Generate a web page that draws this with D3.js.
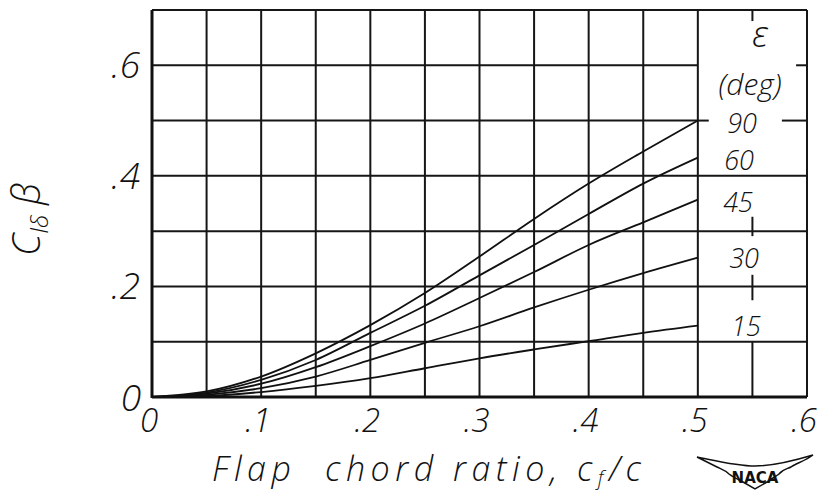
<!DOCTYPE html>
<html>
<head>
<meta charset="utf-8">
<script src="https://cdn.jsdelivr.net/npm/d3@7"></script>
<style>
  body { margin: 0; background: #fff; }
  svg text { font-family: "Open Sans", "DejaVu Sans", sans-serif; font-style: italic; font-weight: 300; fill: #111; white-space: pre; }
</style>
</head>
<body>
<svg width="819" height="493"></svg>
<script>
// flap chord ratio cf/c
const ratio = [0, 0.05, 0.1, 0.15, 0.2, 0.25, 0.3, 0.35, 0.4, 0.45, 0.5]
// flap deflection epsilon (deg)
const angles = [90, 60, 45, 30, 15]
const clb90 = [0, 0.010, 0.037, 0.079, 0.130, 0.188, 0.254, 0.322, 0.386, 0.444, 0.500]
const clb60 = [0, 0.008, 0.031, 0.067, 0.116, 0.165, 0.220, 0.275, 0.331, 0.386, 0.433]
const clb45 = [0, 0.006, 0.024, 0.054, 0.092, 0.133, 0.179, 0.226, 0.275, 0.316, 0.357]
const clb30 = [0, 0.004, 0.016, 0.037, 0.067, 0.098, 0.128, 0.162, 0.194, 0.224, 0.252]
const clb15 = [0, 0.002, 0.009, 0.020, 0.034, 0.052, 0.070, 0.086, 0.101, 0.116, 0.129]
const xTicks = [0, 0.1, 0.2, 0.3, 0.4, 0.5, 0.6]
const xTickLabels = ['0', '.1', '.2', '.3', '.4', '.5', '.6']
const yTicks = [0.2, 0.4, 0.6]
const yTickLabels = ['.2', '.4', '.6']

const series = [clb90, clb60, clb45, clb30, clb15]

const svg = d3.select('svg')
const x = d3.scaleLinear().domain([0, 0.6]).range([152, 807])
const y = d3.scaleLinear().domain([0, 0.7]).range([397, 10])

const grid = svg.append('g')
  .attr('stroke', '#161616')
  .attr('stroke-width', 2)

// vertical grid lines, every 0.05 (0.55 is handled below)
const vLines = d3.range(1, 11).map(i => +(i * 0.05).toFixed(2))
grid.selectAll('line.v')
  .data(vLines)
  .enter()
  .append('line')
  .attr('x1', d => x(d)).attr('x2', d => x(d))
  .attr('y1', y(0)).attr('y2', y(0.7))

// the 0.55 line in the label column is broken by the labels
const colSegs = [[0.7, 0.68], [0.326, 0.291], [0.221, 0.175], [0.1, 0]]
grid.selectAll('line.c')
  .data(colSegs)
  .enter()
  .append('line')
  .attr('x1', x(0.55)).attr('x2', x(0.55))
  .attr('y1', d => y(d[0])).attr('y2', d => y(d[1]))

grid.append('line')
  .attr('x1', x(0.6)).attr('x2', x(0.6))
  .attr('y1', y(0)).attr('y2', y(0.7))

// horizontal grid lines, every 0.1
const hLines = [0.1, 0.2, 0.3, 0.4, 0.7]
grid.selectAll('line.h')
  .data(hLines)
  .enter()
  .append('line')
  .attr('x1', x(0)).attr('x2', x(0.6))
  .attr('y1', d => y(d)).attr('y2', d => y(d))

const hSegs = [[0.5, 0, 0.5], [0.5, 0.5, 0.51], [0.5, 0.577, 0.6], [0.6, 0, 0.5], [0.6, 0.59, 0.6]]
grid.selectAll('line.hs')
  .data(hSegs)
  .enter()
  .append('line')
  .attr('x1', d => x(d[1])).attr('x2', d => x(d[2]))
  .attr('y1', d => y(d[0])).attr('y2', d => y(d[0]))

// axes frame, heavier
svg.append('line')
  .attr('x1', x(0)).attr('x2', x(0)).attr('y1', y(0) + 1).attr('y2', y(0.7))
  .attr('stroke', '#111').attr('stroke-width', 3)
svg.append('line')
  .attr('x1', x(0)).attr('x2', x(0.6)).attr('y1', y(0)).attr('y2', y(0))
  .attr('stroke', '#111').attr('stroke-width', 3)

const line = d3.line()
  .x((d, i) => x(ratio[i]))
  .y(d => y(d))
  .curve(d3.curveMonotoneX)

svg.append('g')
  .selectAll('path')
  .data(series)
  .enter()
  .append('path')
  .attr('d', d => line(d))
  .attr('fill', 'none')
  .attr('stroke', '#111')
  .attr('stroke-width', 1.8)

// tick labels
svg.append('g')
  .selectAll('text')
  .data(xTicks)
  .enter()
  .append('text')
  .attr('x', d => x(d) - 3)
  .attr('y', 432)
  .attr('text-anchor', 'middle')
  .attr('font-size', 33)
  .text((d, i) => xTickLabels[i])

svg.append('g')
  .selectAll('text')
  .data(yTicks)
  .enter()
  .append('text')
  .attr('x', 140)
  .attr('y', d => y(d) + 13)
  .attr('text-anchor', 'end')
  .attr('font-size', 37)
  .text((d, i) => yTickLabels[i])

svg.append('text')
  .attr('x', 141).attr('y', 411)
  .attr('text-anchor', 'end')
  .attr('font-size', 37)
  .text('0')

// legend column labels
const legendY = [133, 170, 212, 268, 336]
svg.append('g')
  .selectAll('text')
  .data(angles)
  .enter()
  .append('text')
  .attr('x', (d, i) => [742, 739, 738, 744, 746][i])
  .attr('y', (d, i) => legendY[i])
  .attr('text-anchor', 'middle')
  .attr('font-size', 27)
  .text(d => d)

svg.append('text')
  .attr('x', 760).attr('y', 47)
  .attr('text-anchor', 'middle')
  .attr('font-size', 36)
  .text('ε')
svg.append('text')
  .attr('x', 750).attr('y', 95)
  .attr('text-anchor', 'middle')
  .attr('font-size', 30)
  .text('(deg)')

// axis titles
const xt = svg.append('text')
  .attr('x', 212).attr('y', 481)
  .attr('font-size', 34)
  .attr('letter-spacing', 5.5)
xt.append('tspan').text('Flap  chord ratio, c')
xt.append('tspan').attr('font-size', 20).attr('dy', 4).text('f')
xt.append('tspan').attr('dy', -4).text('/c')

const yt = svg.append('text')
  .attr('transform', 'translate(40, 256) rotate(-90)')
  .attr('font-size', 38)
yt.append('tspan').text('C')
yt.append('tspan').attr('font-size', 24).attr('dy', 8).text('lδ')
yt.append('tspan').attr('dy', -8).text(' β')

// NACA wings mark
const logo = svg.append('g').attr('transform', 'translate(697, 455)')
logo.append('path')
  .attr('d', 'M0,2 C20,6 40,11 58,11 C76,11 96,6 116,0 C108,6 100,8 94,12 C90,14 86,14 82,19 C78,22 74,24 70,27 L58,34 L46,27 C40,24 36,22 32,19 C28,15 24,14 20,12 C14,9 8,6 0,2 Z')
  .attr('fill', 'none')
  .attr('stroke', '#111')
  .attr('stroke-width', 1.5)
logo.append('text')
  .attr('x', 58).attr('y', 28)
  .attr('text-anchor', 'middle')
  .style('font-size', '15px')
  .style('font-style', 'normal')
  .style('font-weight', 700)
  .style('font-family', 'DejaVu Sans, sans-serif')
  .text('NACA')
</script>
</body>
</html>
